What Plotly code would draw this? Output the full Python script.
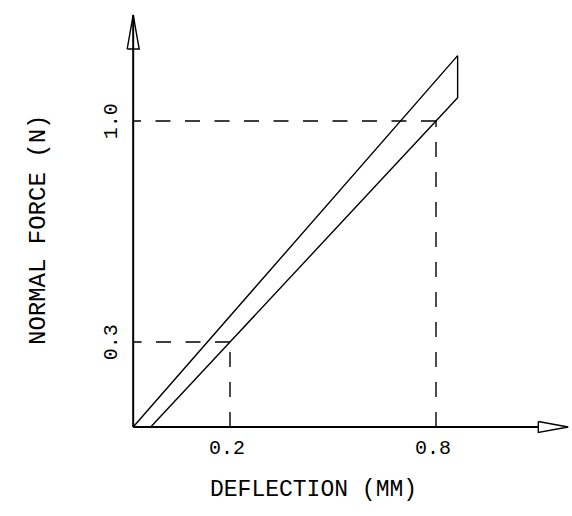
import plotly.graph_objects as go

# ---- data ----
tick_x = [0.2, 0.8]
tick_x_labels = ["0.2", "0.8"]
tick_y = [0.3, 1.0]
tick_y_labels = ["0.3", "1.0"]

# loading curve (upper line) and unloading curve (lower line)
upper_x = [-0.082, 0.863]
upper_y = [0.031, 1.207]
lower_x = [0.863, 0.8, 0.2, -0.031]
lower_y = [1.074, 1.0, 0.3, 0.031]

# axes origin and arrow tips
origin_x, origin_y = -0.082, 0.031
x_axis_end = 1.185
y_axis_end = 1.336

x_title = "DEFLECTION (MM)"
y_title = "NORMAL FORCE (N)"

FONT = "Liberation Mono"
BLACK = "#000000"

fig = go.Figure()

# curve outline: upper line, right edge, lower line
fig.add_trace(go.Scatter(
    x=upper_x + lower_x, y=upper_y + lower_y, mode="lines",
    line=dict(color=BLACK, width=1.4), hoverinfo="skip", showlegend=False))

# dashed guide lines
for tx, ty in zip(tick_x, tick_y):
    # horizontal: from the point to the y axis
    fig.add_trace(go.Scatter(
        x=[tx, origin_x], y=[ty, ty], mode="lines",
        line=dict(color=BLACK, width=1.4, dash="15px,14.5px"),
        hoverinfo="skip", showlegend=False))
    # vertical: from the x axis up to the point
    fig.add_trace(go.Scatter(
        x=[tx, tx], y=[origin_y, ty], mode="lines",
        line=dict(color=BLACK, width=1.4, dash="15px,15px"),
        hoverinfo="skip", showlegend=False))

# arrow geometry (in data units)
x_head_len = 0.087
x_head_hw = 0.0174
y_head_len = 0.108
y_head_hw = 0.0175

# axes lines
fig.add_trace(go.Scatter(
    x=[origin_x, x_axis_end - x_head_len], y=[origin_y, origin_y], mode="lines",
    line=dict(color=BLACK, width=2), hoverinfo="skip", showlegend=False))
fig.add_trace(go.Scatter(
    x=[origin_x, origin_x], y=[origin_y, y_axis_end], mode="lines",
    line=dict(color=BLACK, width=2), hoverinfo="skip", showlegend=False))

# hollow arrowheads
xb = x_axis_end - x_head_len
fig.add_trace(go.Scatter(
    x=[xb, x_axis_end, xb, xb], y=[origin_y + x_head_hw, origin_y, origin_y - x_head_hw, origin_y + x_head_hw],
    mode="lines", fill="toself", fillcolor="white",
    line=dict(color=BLACK, width=1.4), hoverinfo="skip", showlegend=False))
yb = y_axis_end - y_head_len
fig.add_trace(go.Scatter(
    x=[origin_x - y_head_hw, origin_x, origin_x + y_head_hw, origin_x - y_head_hw], y=[yb, y_axis_end, yb, yb],
    mode="lines", fill="toself", fillcolor="rgba(255,255,255,0)",
    line=dict(color=BLACK, width=1.4), hoverinfo="skip", showlegend=False))

annotations = []
for tx, lab in zip(tick_x, tick_x_labels):
    annotations.append(dict(x=tx, y=origin_y, xref="x", yref="y", text=lab,
                            showarrow=False, xanchor="center", yanchor="middle",
                            xshift=-3, yshift=-22,
                            font=dict(family=FONT, size=20, color=BLACK)))
for ty, lab in zip(tick_y, tick_y_labels):
    annotations.append(dict(x=origin_x, y=ty, xref="x", yref="y", text=lab,
                            showarrow=False, xanchor="center", yanchor="middle",
                            xshift=-22, textangle=-90,
                            font=dict(family=FONT, size=20, color=BLACK)))
annotations.append(dict(x=313, y=490, xref="paper", yref="paper", text=x_title,
                        showarrow=False, xanchor="center", yanchor="middle",
                        font=dict(family=FONT, size=23, color=BLACK)))
annotations.append(dict(x=38, y=230, xref="paper", yref="paper", text=y_title,
                        showarrow=False, xanchor="center", yanchor="middle", textangle=-90,
                        font=dict(family=FONT, size=24, color=BLACK)))

W, H = 572, 516
for a in annotations:
    if a["xref"] == "paper":
        a["x"] = a["x"] / W
        a["y"] = 1 - a["y"] / H

fig.update_layout(
    width=W, height=H, autosize=False,
    margin=dict(l=0, r=0, t=0, b=0, pad=0),
    paper_bgcolor="white", plot_bgcolor="white",
    xaxis=dict(range=[-0.4699, 1.1961], visible=False, fixedrange=True),
    yaxis=dict(range=[-0.2511, 1.3833], visible=False, fixedrange=True),
    annotations=annotations,
    showlegend=False,
)

fig.write_html("out.html", config={"displayModeBar": False},
               post_script="document.body.style.margin='0';document.body.style.overflow='hidden';")
